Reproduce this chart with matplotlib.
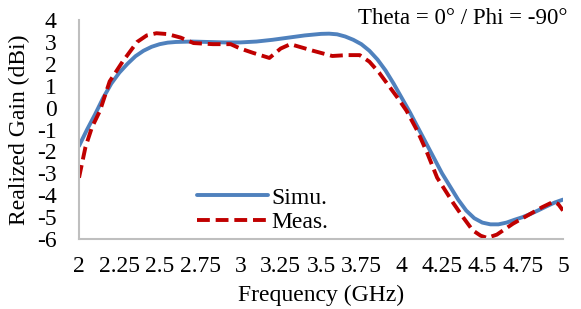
import matplotlib.pyplot as plt

# frequency (GHz) / realized gain (dBi)
simu_freq = [2.0, 2.05, 2.1, 2.15, 2.2, 2.25, 2.3, 2.35, 2.4, 2.45, 2.5, 2.55, 2.6, 2.7, 2.8,
             2.9, 3.0, 3.1, 3.2, 3.3, 3.4, 3.5, 3.55, 3.6, 3.65, 3.7, 3.75, 3.8, 3.85, 3.9,
             3.95, 4.0, 4.05, 4.1, 4.15, 4.2, 4.25, 4.3, 4.35, 4.4, 4.45, 4.5, 4.55, 4.6,
             4.65, 4.7, 4.75, 4.8, 4.85, 4.9, 4.95, 5.0]
simu_gain = [-1.75, -1.0, -0.3, 0.45, 1.1, 1.6, 2.0, 2.35, 2.6, 2.78, 2.9, 2.97, 3.0, 3.02, 3.0,
             2.98, 2.98, 3.02, 3.1, 3.2, 3.3, 3.37, 3.38, 3.35, 3.25, 3.1, 2.9, 2.6, 2.2, 1.7,
             1.1, 0.45, -0.2, -0.9, -1.6, -2.3, -3.0, -3.6, -4.2, -4.7, -5.05, -5.25, -5.33, -5.33,
             -5.25, -5.12, -5.0, -4.85, -4.68, -4.5, -4.33, -4.2]

meas_freq = [2.0, 2.04, 2.08, 2.13, 2.19, 2.27, 2.36, 2.42, 2.48, 2.55, 2.63, 2.71, 2.83, 2.94,
             3.0, 3.08, 3.18, 3.25, 3.31, 3.38, 3.45, 3.57, 3.66, 3.74, 3.8, 3.86, 3.91, 3.97,
             4.03, 4.1, 4.16, 4.22, 4.32, 4.38, 4.44, 4.49, 4.53, 4.59, 4.64, 4.69, 4.75, 4.81,
             4.87, 4.94, 4.97, 5.0]
meas_gain = [-3.2, -1.8, -0.9, -0.14, 1.2, 2.1, 3.0, 3.3, 3.4, 3.36, 3.2, 2.95, 2.9, 2.9,
             2.7, 2.5, 2.27, 2.7, 2.9, 2.75, 2.6, 2.36, 2.4, 2.4, 2.1, 1.6, 1.1, 0.5,
             -0.14, -1.1, -2.1, -3.2, -4.36, -5.0, -5.6, -5.85, -5.95, -5.8, -5.55, -5.3, -5.05, -4.8,
             -4.55, -4.3, -4.4, -4.7]

x_ticks = [2, 2.25, 2.5, 2.75, 3, 3.25, 3.5, 3.75, 4, 4.25, 4.5, 4.75, 5]
x_labels = ["2", "2.25", "2.5", "2.75", "3", "3.25", "3.5", "3.75", "4", "4.25", "4.5", "4.75", "5"]
y_ticks = list(range(-6, 5))

plt.rcParams['font.family'] = ['Liberation Serif', 'DejaVu Serif']
plt.rcParams['font.size'] = 17
plt.rcParams['axes.unicode_minus'] = False

fig = plt.figure(figsize=(5.81, 3.09), dpi=100)
ax = fig.add_axes([0.136, 0.2265, 0.833, 0.7085])

ax.plot(simu_freq, simu_gain, color='#4F81BD', linewidth=2.8, label='Simu.', solid_capstyle='round')
ax.plot(meas_freq, meas_gain, color='#C00000', linewidth=2.8, linestyle=(0, (3.3, 1.5)), label='Meas.')

ax.set_xlim(2, 5)
ax.set_ylim(-6, 4)
ax.set_xticks(x_ticks)
ax.set_xticklabels(x_labels)
ax.set_yticks(y_ticks)
ax.tick_params(length=0, labelsize=17)
ax.tick_params(axis='x', pad=12)
ax.tick_params(axis='y', pad=16)

for side in ['top', 'right']:
    ax.spines[side].set_visible(False)
for side in ['left', 'bottom']:
    ax.spines[side].set_color('#BFBFBF')
    ax.spines[side].set_linewidth(1.5)

ax.set_xlabel('Frequency (GHz)', labelpad=6)
ax.set_ylabel('Realized Gain (dBi)', labelpad=5)

ax.text(1.01, 1.005, 'Theta = 0° / Phi = -90°', transform=ax.transAxes, ha='right', va='center',
        fontsize=16.5)

ax.legend(loc='upper left', bbox_to_anchor=(0.225, 0.28), frameon=False, handlelength=3.0,
          handletextpad=0.15, labelspacing=0.12, borderaxespad=0)

fig.savefig('out.png', dpi=100)
